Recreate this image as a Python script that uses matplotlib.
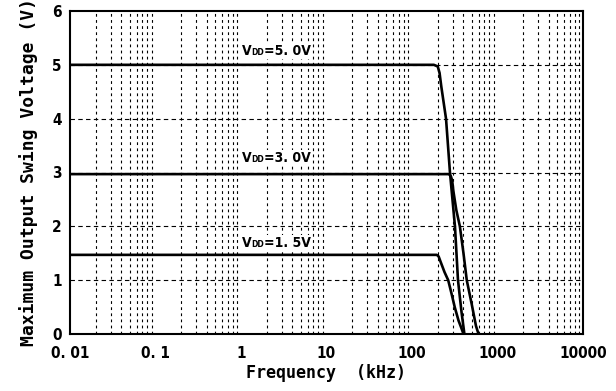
import numpy as np
import matplotlib
matplotlib.use("Agg")
from matplotlib import pyplot as plt
from matplotlib.ticker import FixedLocator, NullFormatter
from matplotlib.offsetbox import TextArea, HPacker, AnnotationBbox

plt.rcParams['font.family'] = ['DejaVu Sans']

# curves (frequency in kHz, voltage in V)
f5 = [0.01, 180, 200, 210, 220, 250, 278, 318, 345, 380, 410]
v5 = [5.0, 5.0, 4.97, 4.85, 4.6, 4.0, 3.0, 2.0, 1.0, 0.4, 0.0]

f3 = [0.01, 270, 285, 295, 305, 330, 363, 400, 437, 500, 560, 600]
v3 = [2.97, 2.97, 2.93, 2.85, 2.65, 2.3, 2.0, 1.5, 1.0, 0.55, 0.15, 0.0]

f15 = [0.01, 195, 205, 215, 240, 265, 290, 316, 350, 380, 400]
v15 = [1.47, 1.47, 1.44, 1.35, 1.15, 1.0, 0.75, 0.5, 0.25, 0.1, 0.0]

label_vals = ['=5. 0V', '=3. 0V', '=1. 5V']
label_y = [5.26, 3.27, 1.69]

xticks = [0.01, 0.1, 1, 10, 100, 1000, 10000]
xticklabels = ['0. 01', '0. 1', '1', '10', '100', '1000', '10000']
yticks = [0, 1, 2, 3, 4, 5, 6]

fig = plt.figure(figsize=(6.16, 3.91), dpi=100)
ax = fig.add_axes([70/616, 1-334/391, (583-70)/616, (334-11)/391])

# grid: dashed horizontals, fine dashed verticals at 2..9 of every decade
minors = [m * 10.0**d for d in range(-2, 4) for m in range(2, 10)]
for x in minors:
    ax.axvline(x, color='black', lw=0.8, ls=(0, (2.5, 3)), zorder=1)
for y in [1, 2, 3, 4, 5]:
    ax.axhline(y, color='black', lw=0.8, ls=(0, (4, 3)), zorder=1)

ax.plot(f5, v5, color='black', lw=1.9, zorder=3)
ax.plot(f3, v3, color='black', lw=1.9, zorder=3)
ax.plot(f15, v15, color='black', lw=1.9, zorder=3)

cond = dict(fontweight='bold', fontstretch='condensed', color='black')
for t, y in zip(label_vals, label_y):
    parts = [TextArea('V', textprops=dict(fontsize=10, **cond)),
             TextArea('DD', textprops=dict(fontsize=6, **cond)),
             TextArea(t, textprops=dict(fontsize=10, **cond))]
    box = HPacker(children=parts, align='baseline', pad=0, sep=0)
    ab = AnnotationBbox(box, (2.6, y), frameon=True, pad=0.1,
                        bboxprops=dict(facecolor='white', edgecolor='none'))
    ab.set_zorder(2)
    ax.add_artist(ab)

ax.set_xscale('log')
ax.set_xlim(0.01, 10000)
ax.set_ylim(0, 6)
ax.xaxis.set_major_locator(FixedLocator(xticks))
ax.xaxis.set_minor_locator(FixedLocator(minors))
ax.xaxis.set_minor_formatter(NullFormatter())
ax.set_xticks(xticks)
ax.set_xticklabels(xticklabels)
ax.set_yticks(yticks)
ax.tick_params(which='both', length=0, labelsize=11, width=0)
ax.tick_params(axis='x', pad=9)
ax.tick_params(axis='y', pad=6)
for lab in ax.get_xticklabels() + ax.get_yticklabels():
    lab.set_fontweight('bold')
    lab.set_fontstretch('condensed')

for s in ax.spines.values():
    s.set_linewidth(1.5)

ax.set_xlabel('Frequency  (kHz)', fontsize=12, fontweight='bold', labelpad=2,
              family=['DejaVu Sans Mono'])
ax.set_ylabel('Maximum Output Swing Voltage (V)', fontsize=13, fontweight='bold',
              labelpad=10, family=['DejaVu Sans Mono'])

fig.savefig('out.png', dpi=100)
